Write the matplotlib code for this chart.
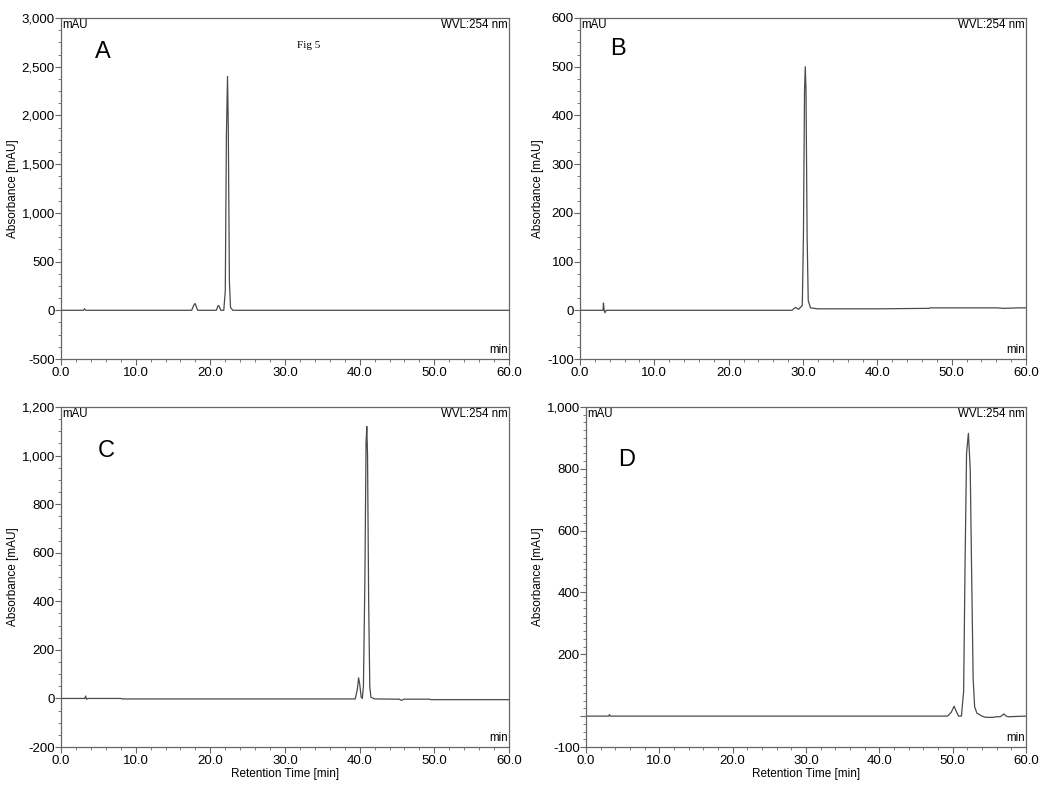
import matplotlib
matplotlib.use("Agg")
import matplotlib.pyplot as plt
from matplotlib.ticker import FixedLocator, AutoMinorLocator, FuncFormatter

plt.rcParams['font.family'] = ['Liberation Sans', 'DejaVu Sans']

# ---- data (retention time [min], absorbance [mAU]) ----
time_A = [0, 3.0, 3.15, 3.3, 17.5, 17.8, 17.95, 18.1, 18.3, 20.8, 21.05, 21.2, 21.4,
          21.8, 22.0, 22.15, 22.3, 22.4, 22.55, 22.7, 23.0, 60]
abs_A = [0, 0, 15, 0, 0, 55, 70, 40, 0, 0, 50, 40, 0,
         0, 200, 1800, 2400, 1900, 300, 30, 0, 0]

time_B = [0, 3.1, 3.15, 3.25, 3.35, 3.5, 20, 28.5, 29.0, 29.4, 29.9, 30.05, 30.2, 30.3,
          30.4, 30.55, 30.7, 31.0, 32, 40, 47, 47.1, 56, 57, 59, 60]
abs_B = [0, 0, 15, 0, -5, 0, 0, 0, 6, 2, 10, 150, 450, 500,
         450, 150, 20, 5, 3, 3, 4, 5, 5, 4, 5, 5]

time_C = [0, 3.2, 3.3, 3.4, 3.6, 8.0, 8.2, 39.4, 39.7, 39.85, 40.0, 40.2, 40.35, 40.5,
          40.7, 40.85, 40.95, 41.05, 41.2, 41.35, 41.5, 42, 45.3, 45.6, 45.9, 49.3, 49.6, 60]
abs_C = [0, 0, 10, -3, 0, 0, -2, -2, 40, 85, 60, 5, 0, 50,
         500, 1050, 1120, 1000, 400, 50, 5, -2, -3, -8, -3, -3, -5, -5]

time_D = [0, 3.1, 3.2, 3.35, 49.3, 49.8, 50.2, 50.5, 50.8, 51.2, 51.5, 51.7, 51.9, 52.15,
          52.4, 52.6, 52.8, 53.0, 53.3, 54.0, 54.5, 55.5, 56.0, 56.5, 57.0, 57.3, 57.6, 60]
abs_D = [0, 0, 5, 0, 0, 12, 32, 15, 0, 0, 80, 500, 850, 915,
         800, 450, 120, 30, 10, 0, -4, -4, -2, -2, 7, 0, -2, 0]

x_ticks = [0, 10, 20, 30, 40, 50, 60]
y_ticks_A = [-500, 0, 500, 1000, 1500, 2000, 2500, 3000]
y_ticks_B = [-100, 0, 100, 200, 300, 400, 500, 600]
y_ticks_C = [-200, 0, 200, 400, 600, 800, 1000, 1200]
y_ticks_D = [-100, 0, 200, 400, 600, 800, 1000]

panels = [
    dict(letter='A', t=time_A, a=abs_A, yt=y_ticks_A, rect=[0.0581, 0.5444, 0.4267, 0.4328],
         letter_pos=(0.094, 0.90), ylab_x=-0.094, xlabel=False, hide_zero=False),
    dict(letter='B', t=time_B, a=abs_B, yt=y_ticks_B, rect=[0.5524, 0.5444, 0.4248, 0.4328],
         letter_pos=(0.085, 0.91), ylab_x=-0.081, xlabel=False, hide_zero=False),
    dict(letter='C', t=time_C, a=abs_C, yt=y_ticks_C, rect=[0.0581, 0.0520, 0.4267, 0.4315],
         letter_pos=(0.10, 0.87), ylab_x=-0.094, xlabel=True, hide_zero=False),
    dict(letter='D', t=time_D, a=abs_D, yt=y_ticks_D, rect=[0.5581, 0.0520, 0.4190, 0.4315],
         letter_pos=(0.093, 0.844), ylab_x=-0.095, xlabel=True, hide_zero=True),
]

fig = plt.figure(figsize=(10.5, 7.88), dpi=100)
spine_col = '#666666'

for p in panels:
    ax = fig.add_axes(p['rect'])
    ax.plot(p['t'], p['a'], color='#4a4a4a', linewidth=0.9)
    ax.set_xlim(0, 60)
    ax.set_ylim(p['yt'][0], p['yt'][-1])
    ax.xaxis.set_major_locator(FixedLocator(x_ticks))
    ax.yaxis.set_major_locator(FixedLocator(p['yt']))
    ax.xaxis.set_minor_locator(AutoMinorLocator(5))
    ax.yaxis.set_minor_locator(AutoMinorLocator(4))
    ax.xaxis.set_major_formatter(FuncFormatter(lambda v, pos: f"{v:.1f}"))
    hz = p['hide_zero']
    ax.yaxis.set_major_formatter(FuncFormatter(
        lambda v, pos, hz=hz: '' if (hz and abs(v) < 1e-9) else f"{v:,.0f}"))
    ax.tick_params(axis='both', which='major', direction='out', length=4, width=0.8,
                   color=spine_col, labelsize=9.5, pad=1.5)
    ax.tick_params(axis='both', which='minor', direction='out', length=2, width=0.6,
                   color=spine_col)
    ax.tick_params(axis='y', which='major', pad=0.5)
    for s in ax.spines.values():
        s.set_color(spine_col)
        s.set_linewidth(0.9)
    ax.set_ylabel('Absorbance [mAU]', fontsize=8.5)
    ax.yaxis.set_label_coords(p['ylab_x'], 0.5)
    if p['xlabel']:
        ax.set_xlabel('Retention Time [min]', fontsize=8.5, labelpad=1)
    ax.text(0.003, 0.997, 'mAU', transform=ax.transAxes, ha='left', va='top', fontsize=8.3)
    ax.text(0.997, 0.997, 'WVL:254 nm', transform=ax.transAxes, ha='right', va='top',
            fontsize=8.3)
    ax.text(0.997, 0.008, 'min', transform=ax.transAxes, ha='right', va='bottom',
            fontsize=8.3)
    ax.text(p['letter_pos'][0], p['letter_pos'][1], p['letter'], transform=ax.transAxes,
            ha='center', va='center', fontsize=17)
    if p['letter'] == 'A':
        ax.text(0.553, 0.918, 'Fig 5', transform=ax.transAxes, ha='center', va='center',
                fontsize=8, family=['Liberation Serif', 'DejaVu Serif'])

fig.savefig('out.png', dpi=100)
